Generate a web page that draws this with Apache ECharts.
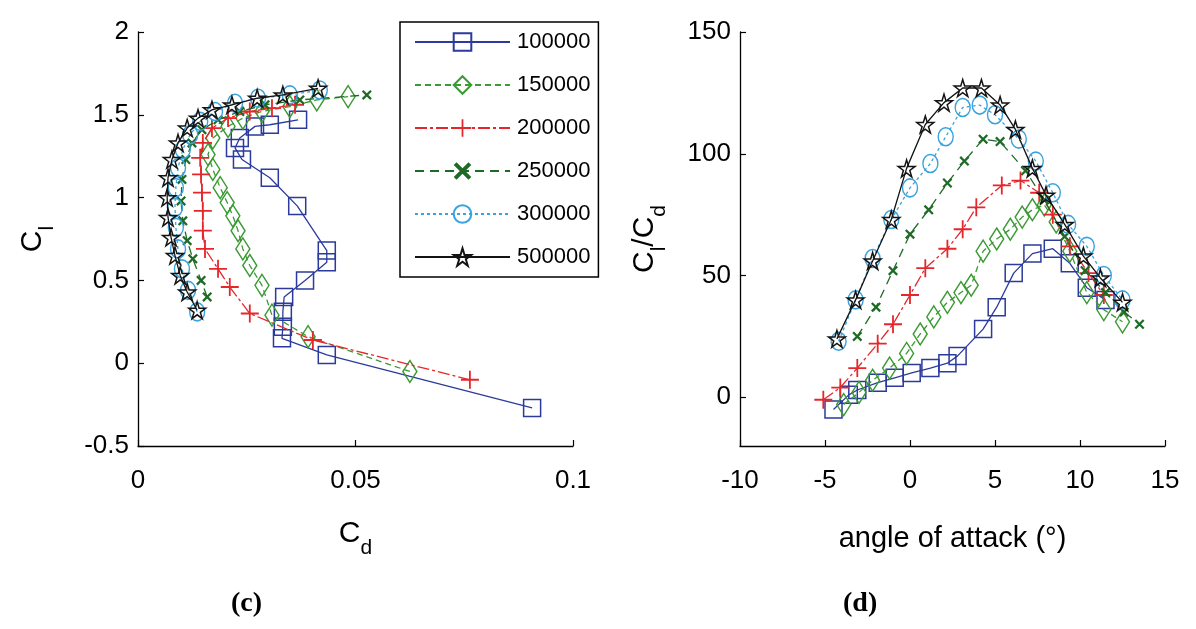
<!DOCTYPE html>
<html>
<head>
<meta charset="utf-8">
<script src="https://cdn.jsdelivr.net/npm/echarts@6/dist/echarts.min.js"></script>
<style>
html,body{margin:0;padding:0;background:#fff;}
#chart{width:1196px;height:629px;}
</style>
</head>
<body>
<div id="chart"></div>
<script>
// Reynolds numbers (legend)
const reNames = ['100000', '150000', '200000', '250000', '300000', '500000'];

// Left panel (c): [Cd, Cl]
const polar100k = [[0.0906,-0.27],[0.0434,0.05],[0.0331,0.15],[0.0333,0.22],[0.0333,0.31],[0.0336,0.40],[0.0384,0.50],[0.0434,0.61],[0.0434,0.68],[0.0366,0.95],[0.0303,1.12],[0.0239,1.23],[0.0223,1.30],[0.0234,1.36],[0.0269,1.43],[0.0303,1.44],[0.0368,1.47]];
const polar150k = [[0.0625,-0.05],[0.0391,0.16],[0.0308,0.29],[0.0285,0.47],[0.0257,0.59],[0.0241,0.69],[0.0230,0.80],[0.0218,0.89],[0.0205,0.97],[0.0189,1.06],[0.0172,1.17],[0.0161,1.26],[0.0172,1.36],[0.0207,1.43],[0.0241,1.48],[0.0285,1.52],[0.0349,1.55],[0.0411,1.59],[0.0483,1.61]];
const polar200k = [[0.0763,-0.10],[0.0402,0.14],[0.0257,0.30],[0.0211,0.46],[0.0184,0.57],[0.0154,0.69],[0.0149,0.80],[0.0149,0.92],[0.0147,1.03],[0.0145,1.14],[0.0143,1.24],[0.0149,1.33],[0.0170,1.42],[0.0207,1.48],[0.0257,1.52],[0.0308,1.54],[0.0361,1.56]];
const polar250k = [[0.0159,0.40],[0.0145,0.50],[0.0126,0.63],[0.0113,0.74],[0.0103,0.86],[0.0099,0.98],[0.0101,1.11],[0.0110,1.23],[0.0124,1.33],[0.0147,1.41],[0.0184,1.47],[0.0234,1.52],[0.0292,1.56],[0.0372,1.59],[0.0526,1.62]];
const polar300k = [[0.0136,0.31],[0.0115,0.44],[0.0101,0.57],[0.0092,0.69],[0.0087,0.82],[0.0085,0.94],[0.0087,1.06],[0.0092,1.18],[0.0103,1.29],[0.0120,1.38],[0.0143,1.46],[0.0177,1.52],[0.0223,1.57],[0.0276,1.60],[0.0349,1.62],[0.0418,1.65]];
const polar500k = [[0.0136,0.32],[0.0113,0.43],[0.0097,0.53],[0.0085,0.65],[0.0076,0.76],[0.0069,0.88],[0.0067,1.00],[0.0069,1.12],[0.0078,1.23],[0.0092,1.33],[0.0113,1.42],[0.0138,1.48],[0.0170,1.53],[0.0216,1.56],[0.0274,1.60],[0.0333,1.62],[0.0414,1.66]];

// Right panel (d): [angle of attack, Cl/Cd]
const ratio100k = [[-4.5,-5],[-3.6,1],[-3.1,3],[-1.9,6],[-0.9,8],[0.1,10],[1.2,12],[2.2,14],[2.8,17],[4.3,28],[5.1,37],[6.1,51],[7.2,59],[8.4,61],[9.4,55],[10.4,45],[11.5,40]];
const ratio150k = [[-3.9,-3],[-3.0,2],[-2.2,7],[-1.2,12],[-0.2,18],[0.6,26],[1.4,33],[2.2,39],[3.0,43],[3.6,46],[4.3,60],[5.1,65],[5.9,69],[6.6,74],[7.2,77],[7.9,79],[8.6,72],[9.4,60],[10.4,43],[11.4,36],[12.5,31]];
const ratio200k = [[-5.1,-1],[-4.1,4],[-3.1,12],[-1.9,22],[-1.0,30],[0.0,42],[0.9,53],[2.2,61],[3.1,69],[3.9,78],[5.4,87],[6.5,89],[7.6,84],[8.4,75],[9.4,62],[10.5,51],[11.4,42]];
const ratio250k = [[-3.1,25],[-2.0,37],[-1.0,52],[0.0,67],[1.1,77],[2.2,88],[3.2,97],[4.3,106],[5.3,105],[6.8,93],[7.9,81],[9.1,66],[10.3,52],[11.5,43],[12.6,35],[13.5,30]];
const ratio300k = [[-4.2,23],[-3.2,40],[-2.2,57],[-1.1,73],[0.0,86],[1.2,96],[2.1,107],[3.1,119],[4.1,120],[5.0,116],[6.4,106],[7.4,97],[8.4,84],[9.3,71],[10.4,62],[11.4,50],[12.5,40]];
const ratio500k = [[-4.3,24],[-3.2,40],[-2.2,56],[-1.1,73],[-0.2,94],[0.9,112],[2.0,121],[3.1,127],[4.2,127],[5.3,120],[6.2,110],[7.2,94],[8.0,83],[9.1,71],[10.2,58],[11.2,49],[12.5,39]];

// Axis ticks
const cdTicks = [0, 0.05, 0.1];
const clTicks = [-0.5, 0, 0.5, 1, 1.5, 2];
const aoaTicks = [-10, -5, 0, 5, 10, 15];
const ratioTicks = [0, 50, 100, 150];

const polars = [polar100k, polar150k, polar200k, polar250k, polar300k, polar500k];
const ratios = [ratio100k, ratio150k, ratio200k, ratio250k, ratio300k, ratio500k];

const PLUS = 'path://M0,9H20V11H0Z M9,0H11V20H9Z';
const CROSS = 'path://M0,1.6L1.6,0L10,8.4L8.4,10Z M8.4,0L10,1.6L1.6,10L0,8.4Z';
const STAR = 'path://M50,0L61,35L98,35L68,57L79,91L50,70L21,91L32,57L2,35L39,35Z';

const styles = [
  {color:'#2b3a9c', symbol:'rect', size:17, hollow:true, line:'solid'},
  {color:'#3b9a33', symbol:'diamond', size:[14,22], hollow:true, line:[6,4]},
  {color:'#e5262b', symbol:PLUS, size:18, hollow:false, line:[12,3,3,3]},
  {color:'#1e6a26', symbol:CROSS, size:10, hollow:false, line:[9,6]},
  {color:'#3aa2dc', symbol:'circle', size:[15,18], hollow:true, line:[3,3]},
  {color:'#141414', symbol:STAR, size:17, hollow:true, line:'solid'}
];

const FONT = 'Liberation Sans, Arial, sans-serif';

function mkSeries(i, idx, data) {
  const s = styles[i];
  return {
    name: reNames[i],
    type: 'line',
    xAxisIndex: idx, yAxisIndex: idx,
    data: data,
    symbol: s.symbol,
    symbolSize: s.size,
    showAllSymbol: true,
    smooth: false,
    lineStyle: {color: s.color, width: 1.3, type: s.line},
    itemStyle: s.hollow ? {color: 'rgba(255,255,255,0)', borderColor: s.color, borderWidth: 1.5}
                        : {color: s.color, borderWidth: 0},
    emphasis: {disabled: true},
    z: 2 + i
  };
}

const series = [];
for (let i = 0; i < 6; i++) series.push(mkSeries(i, 0, polars[i]));
for (let i = 0; i < 6; i++) series.push(mkSeries(i, 1, ratios[i]));

const axisCommon = {
  type: 'value',
  axisLine: {show: true, onZero: false, lineStyle: {color: '#000', width: 1.3}},
  axisTick: {show: true, inside: true, length: 6, lineStyle: {color: '#000', width: 1.2}},
  splitLine: {show: false},
  axisLabel: {color: '#000', fontSize: 26, fontFamily: FONT}
};

const richName = {
  a: {fontSize: 30, fontFamily: FONT, color: '#000', lineHeight: 32, verticalAlign: 'top'},
  b: {fontSize: 21, fontFamily: FONT, color: '#000', lineHeight: 40, verticalAlign: 'bottom'}
};

const option = {
  animation: false,
  backgroundColor: '#fff',
  grid: [
    {left: 138, top: 32, width: 435, height: 414},
    {left: 740, top: 32, width: 425, height: 414}
  ],
  legend: {
    data: reNames,
    orient: 'vertical',
    left: 400, top: 22,
    padding: [9, 8, 9, 14],
    itemWidth: 95, itemHeight: 22, itemGap: 21,
    backgroundColor: '#fff',
    borderColor: '#000', borderWidth: 1.5,
    textStyle: {color: '#000', fontSize: 22, fontFamily: FONT, padding: [0,0,0,2]},
    selectedMode: false
  },
  xAxis: [
    Object.assign({}, axisCommon, {gridIndex: 0, min: cdTicks[0], max: cdTicks[cdTicks.length-1],
      axisTick: Object.assign({}, axisCommon.axisTick, {customValues: cdTicks}),
      axisLabel: Object.assign({}, axisCommon.axisLabel, {margin: 22, customValues: cdTicks}),
      name: '{a|C}{b|d}', nameLocation: 'middle', nameGap: 73,
      nameTextStyle: {rich: richName}}),
    Object.assign({}, axisCommon, {gridIndex: 1, min: aoaTicks[0], max: aoaTicks[aoaTicks.length-1],
      axisTick: Object.assign({}, axisCommon.axisTick, {customValues: aoaTicks}),
      axisLabel: Object.assign({}, axisCommon.axisLabel, {margin: 22, customValues: aoaTicks}),
      name: 'angle of attack (°)', nameLocation: 'middle', nameGap: 78,
      nameTextStyle: {fontSize: 29, fontFamily: FONT, color: '#000'}})
  ],
  yAxis: [
    Object.assign({}, axisCommon, {gridIndex: 0, min: clTicks[0], max: clTicks[clTicks.length-1],
      axisTick: Object.assign({}, axisCommon.axisTick, {customValues: clTicks}),
      axisLabel: Object.assign({}, axisCommon.axisLabel, {margin: 9, customValues: clTicks}),
      name: '{a|C}{b|l}', nameLocation: 'middle', nameGap: 80, nameRotate: 90,
      nameTextStyle: {rich: richName}}),
    Object.assign({}, axisCommon, {gridIndex: 1, min: -20, max: 150,
      axisTick: Object.assign({}, axisCommon.axisTick, {customValues: ratioTicks}),
      axisLabel: Object.assign({}, axisCommon.axisLabel, {margin: 9, customValues: ratioTicks}),
      name: '{a|C}{b|l}{a|/C}{b|d}', nameLocation: 'middle', nameGap: 70, nameRotate: 90,
      nameTextStyle: {rich: richName}})
  ],
  graphic: [
    {type: 'text', left: 231, top: 590, style: {text: '(c)', font: 'bold 28px "Liberation Serif", serif', fill: '#000'}},
    {type: 'text', left: 843, top: 590, style: {text: '(d)', font: 'bold 28px "Liberation Serif", serif', fill: '#000'}}
  ],
  series: series
};

const chart = echarts.init(document.getElementById('chart'), null, {renderer: 'canvas'});
chart.setOption(option);
</script>
</body>
</html>
